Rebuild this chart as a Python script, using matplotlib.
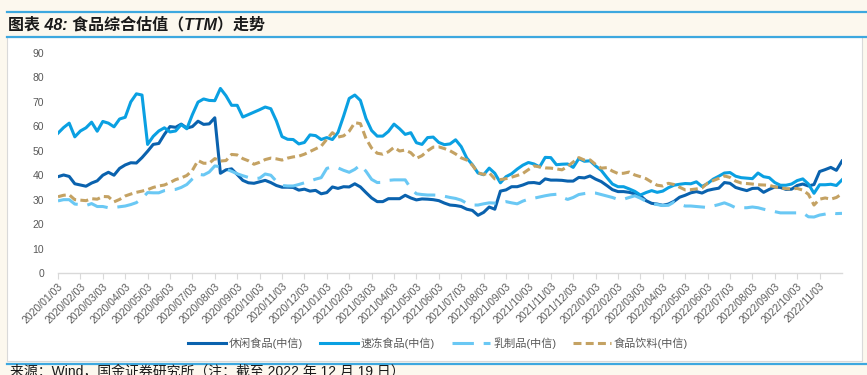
"""
Food sector valuation (TTM PE) trend, CITIC sub-industries, 2020-01 to 2022-12.
Writes out.png (867x375).
"""

import numpy as np
import matplotlib
matplotlib.use("Agg")
import matplotlib.pyplot as plt
from matplotlib.lines import Line2D
from matplotlib.patches import Rectangle

plt.rcParams["font.family"] = ["Liberation Sans", "Noto Sans CJK SC", "DejaVu Sans"]

# ---- data: PE (TTM), sampled every quarter month from 2020/01/03 ----
snack = [  # 休闲食品(中信)
    39.4, 40.1, 39.5, 36.5, 36.0, 35.5, 36.8, 37.7, 40.0, 41.2, 40.0, 42.8, 44.2, 45.1, 45.0, 47.2,
    49.8, 52.6, 53.0, 56.7, 59.9, 59.6, 60.9, 59.3, 59.9, 62.1, 60.8, 61.0, 63.5, 40.8, 42.2, 42.6,
    40.3, 37.9, 36.9, 36.7, 37.3, 37.9, 37.0, 35.8, 35.1, 35.1, 35.0, 33.9, 34.3, 33.5, 33.8, 32.4,
    32.9, 35.2, 34.6, 35.3, 35.2, 36.5, 35.2, 32.9, 30.7, 29.2, 29.2, 30.4, 30.4, 30.4, 31.8, 30.7,
    29.9, 30.3, 30.2, 30.0, 29.6, 28.6, 27.8, 27.6, 27.2, 26.1, 25.6, 23.6, 24.8, 27.0, 26.1, 33.5,
    34.0, 35.3, 35.3, 36.0, 36.9, 37.0, 36.6, 38.5, 38.0, 38.0, 37.9, 37.6, 37.6, 39.1, 38.9, 39.7,
    38.4, 37.4, 35.8, 34.1, 33.3, 33.3, 33.0, 32.4, 31.6, 29.6, 28.5, 28.2, 27.7, 28.2, 29.3, 31.0,
    31.8, 32.8, 33.3, 32.7, 33.8, 34.3, 34.7, 37.0, 36.7, 35.0, 34.3, 33.7, 34.6, 34.7, 33.0, 34.2,
    35.2, 35.0, 34.2, 34.3, 35.8, 36.4, 35.6, 36.2, 41.5, 42.3, 43.2, 42.0, 45.8,
]
frozen = [  # 速冻食品(中信)
    57.2, 59.5, 61.3, 55.7, 58.1, 59.4, 61.7, 58.0, 62.0, 61.3, 59.8, 63.0, 63.7, 70.0, 73.3, 72.8,
    52.6, 55.9, 58.1, 59.4, 57.7, 58.1, 60.7, 59.0, 64.8, 69.9, 71.2, 70.6, 70.5, 75.5, 72.5, 68.6,
    68.6, 63.8, 64.8, 65.8, 66.8, 67.9, 67.2, 62.2, 55.8, 54.7, 54.6, 52.8, 53.4, 56.5, 56.2, 54.6,
    55.4, 54.6, 57.5, 64.2, 71.4, 72.8, 70.6, 63.2, 58.3, 56.0, 56.0, 57.9, 60.9, 59.0, 56.7, 57.4,
    53.3, 52.6, 55.4, 55.6, 53.4, 52.5, 52.8, 54.5, 51.7, 47.0, 44.3, 40.9, 40.2, 42.9, 40.8, 36.9,
    39.4, 40.6, 42.5, 44.1, 45.2, 44.6, 43.4, 47.3, 47.2, 44.3, 44.5, 44.6, 43.2, 46.8, 45.7, 45.9,
    43.8, 42.0, 39.1, 36.4, 35.3, 35.3, 34.4, 33.4, 31.9, 32.9, 33.7, 33.0, 33.5, 34.9, 35.9, 36.3,
    36.6, 36.5, 37.3, 35.4, 36.6, 38.4, 39.6, 40.9, 41.1, 39.6, 39.0, 38.8, 38.6, 40.9, 39.4, 39.0,
    37.0, 35.9, 35.9, 36.4, 37.8, 38.5, 36.4, 32.6, 36.1, 36.1, 36.3, 35.8, 38.1,
]
dairy = [  # 乳制品(中信)
    29.5, 30.0, 30.0, 28.2, 28.0, 27.6, 28.4, 27.2, 27.2, 26.7, 26.8, 27.1, 27.4, 28.0, 28.8, 30.5,
    32.9, 32.8, 32.8, 33.7, 34.0, 34.2, 35.0, 36.2, 38.5, 40.4, 40.1, 41.3, 43.8, 43.5, 42.5, 41.6,
    40.6, 39.8, 39.1, 38.6, 38.8, 40.5, 40.0, 37.5, 35.8, 35.6, 35.6, 36.2, 36.9, 37.6, 38.4, 39.0,
    42.8, 43.4, 43.0, 42.0, 41.2, 42.4, 44.2, 41.6, 38.3, 37.0, 37.1, 37.9, 38.1, 38.1, 38.1, 34.6,
    32.4, 32.1, 31.9, 31.9, 31.8, 31.4, 30.9, 30.5, 29.8, 28.5, 27.8, 27.8, 28.3, 28.7, 28.6, 28.8,
    29.2, 28.7, 28.3, 29.4, 30.2, 30.6, 31.1, 31.6, 32.0, 32.2, 31.0, 30.1, 30.9, 32.1, 32.5, 32.8,
    32.7, 32.1, 31.5, 30.9, 30.1, 30.2, 30.9, 31.6, 30.6, 29.4, 28.4, 28.0, 27.6, 27.7, 29.0, 28.1,
    27.4, 27.4, 27.2, 27.0, 26.8, 27.4, 28.0, 28.7, 27.8, 26.7, 26.7, 26.7, 27.0, 26.7, 26.1, 25.6,
    25.1, 24.6, 24.6, 24.6, 24.6, 24.6, 23.0, 22.9, 23.7, 24.1, 24.6, 24.3, 24.4,
]
food_bev = [  # 食品饮料(中信)
    31.2, 31.8, 32.0, 30.0, 29.8, 29.6, 30.4, 30.2, 31.3, 31.2, 29.1, 30.1, 31.5, 32.3, 33.0, 33.5,
    34.1, 35.0, 35.6, 36.0, 37.0, 38.2, 38.9, 39.9, 42.0, 46.0, 44.9, 44.9, 46.8, 45.8, 46.0, 48.5,
    48.3, 46.8, 45.9, 44.5, 45.3, 46.4, 47.0, 46.7, 46.2, 47.0, 47.5, 47.8, 48.6, 49.7, 50.8, 51.9,
    54.7, 57.4, 55.6, 56.1, 58.0, 61.5, 61.1, 55.0, 51.1, 49.0, 48.6, 49.6, 51.4, 49.9, 50.3, 49.2,
    46.9, 48.0, 50.0, 51.5, 51.6, 50.9, 50.0, 48.7, 47.1, 46.2, 44.1, 41.0, 40.3, 41.0, 38.5, 38.2,
    38.6, 39.2, 39.9, 40.7, 42.3, 43.8, 43.4, 43.0, 42.9, 42.6, 42.2, 43.6, 45.4, 47.2, 46.2, 46.3,
    44.4, 42.9, 43.1, 41.7, 40.7, 40.8, 41.3, 40.1, 39.4, 38.6, 37.2, 35.9, 35.6, 36.7, 36.2, 35.1,
    34.0, 34.1, 34.4, 34.8, 36.8, 37.8, 38.7, 39.7, 39.1, 37.6, 36.8, 36.6, 36.4, 36.1, 36.0, 35.9,
    35.2, 34.8, 34.5, 34.4, 34.6, 33.9, 32.2, 27.8, 30.2, 30.7, 30.2, 30.9, 32.4,
]

month_labels = [
    "2020/01/03", "2020/02/03", "2020/03/03", "2020/04/03", "2020/05/03", "2020/06/03",
    "2020/07/03", "2020/08/03", "2020/09/03", "2020/10/03", "2020/11/03", "2020/12/03",
    "2021/01/03", "2021/02/03", "2021/03/03", "2021/04/03", "2021/05/03", "2021/06/03",
    "2021/07/03", "2021/08/03", "2021/09/03", "2021/10/03", "2021/11/03", "2021/12/03",
    "2022/01/03", "2022/02/03", "2022/03/03", "2022/04/03", "2022/05/03", "2022/06/03",
    "2022/07/03", "2022/08/03", "2022/09/03", "2022/10/03", "2022/11/03",
]

series_names = ["休闲食品(中信)", "速冻食品(中信)", "乳制品(中信)", "食品饮料(中信)"]

# ---- style ----
BG = "#FCF8EE"
BLUE_RULE = "#3DA8DF"
COLORS = ["#0A62AE", "#0AA0E2", "#6AC8F4", "#C4A263"]
TICK_COLOR = "#595959"

fig = plt.figure(figsize=(8.67, 3.75), dpi=100, facecolor=BG)
W, H = 867.0, 375.0

# white panel + rules of the report template
fig.add_artist(Rectangle((7 / W, 1 - 361 / H), 855 / W, 324 / H,
                         transform=fig.transFigure, facecolor="white",
                         edgecolor="#D9D9D9", linewidth=0.8, zorder=0))
for y_px in (12, 37, 363.5):
    fig.add_artist(Line2D([7 / W, 1.0], [1 - y_px / H] * 2, transform=fig.transFigure,
                          color=BLUE_RULE, linewidth=1.6))

fig.text(8 / W, 1 - 24.5 / H, "图表 48: 食品综合估值（TTM）走势", fontsize=11.5,
         fontweight="bold", style="italic", va="center", ha="left",
         family=["Liberation Sans", "Noto Sans CJK SC"], color="#1A1A1A")
# source line sits at the bottom edge, partly clipped as in the report page
fig.text(10 / W, 1 - 372.5 / H, "来源：Wind，国金证券研究所（注：截至 2022 年 12 月 19 日）",
         fontsize=10, va="center", ha="left", color="#1A1A1A",
         family=["Liberation Sans", "Noto Sans CJK SC"])

ax = fig.add_axes([58 / W, 1 - 273 / H, 784 / W, 220 / H])
ax.set_facecolor("white")

t = np.arange(len(snack)) / 4.0  # months since 2020/01/03

ax.plot(t, snack, color=COLORS[0], lw=2.2, label=series_names[0])
ax.plot(t, frozen, color=COLORS[1], lw=2.2, label=series_names[1])
ax.plot(t, dairy, color=COLORS[2], lw=2.2, dashes=(7, 3.2), label=series_names[2])
ax.plot(t, food_bev, color=COLORS[3], lw=2.2, dashes=(2.6, 1.4), label=series_names[3])

ax.set_xlim(0, 35)
ax.set_ylim(0, 90)
ax.set_yticks(np.arange(0, 91, 10))
ax.set_xticks(np.arange(len(month_labels)))
ax.set_xticklabels(month_labels, rotation=45, ha="right", rotation_mode="anchor")

for side in ("top", "right", "left"):
    ax.spines[side].set_visible(False)
ax.spines["bottom"].set_color("#D9D9D9")
ax.spines["bottom"].set_linewidth(1.0)
ax.tick_params(axis="y", length=0, pad=10, labelsize=7.5, labelcolor=TICK_COLOR)
ax.tick_params(axis="x", length=4, color="#D9D9D9", pad=2, labelsize=7.5,
               labelcolor=TICK_COLOR)

fig.legend(loc="center", bbox_to_anchor=(438 / W, 1 - 343 / H), ncol=4,
           frameon=False, fontsize=8, handlelength=3.4, handletextpad=0.3,
           columnspacing=1.5, labelcolor=TICK_COLOR)

fig.savefig("out.png", dpi=100, facecolor=BG)
plt.close()
